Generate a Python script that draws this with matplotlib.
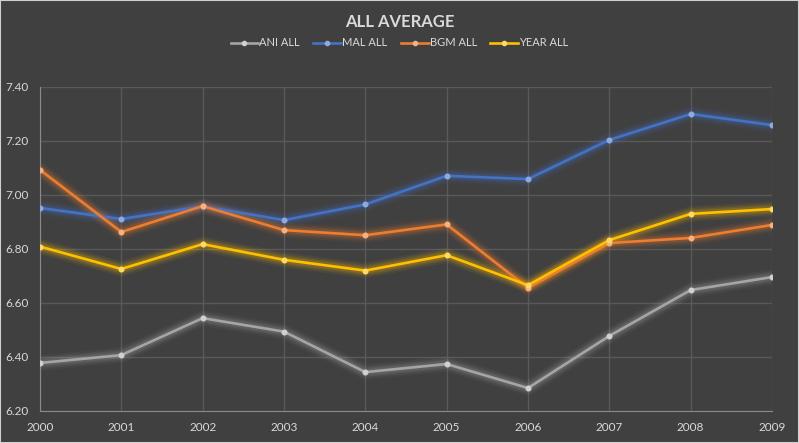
import matplotlib
matplotlib.use("Agg")
import matplotlib.pyplot as plt
from matplotlib.lines import Line2D

years = [2000, 2001, 2002, 2003, 2004, 2005, 2006, 2007, 2008, 2009]
ani_all = [6.378, 6.407, 6.544, 6.494, 6.344, 6.374, 6.285, 6.478, 6.648, 6.696]
mal_all = [6.952, 6.911, 6.958, 6.907, 6.965, 7.071, 7.059, 7.204, 7.300, 7.259]
bgm_all = [7.093, 6.863, 6.959, 6.870, 6.851, 6.891, 6.656, 6.822, 6.841, 6.889]
year_all = [6.809, 6.726, 6.818, 6.760, 6.720, 6.777, 6.666, 6.833, 6.930, 6.948]
series_names = ["ANI ALL", "MAL ALL", "BGM ALL", "YEAR ALL"]
y_ticks = [6.20, 6.40, 6.60, 6.80, 7.00, 7.20, 7.40]

colors = ["#a5a5a5", "#4472c4", "#ed7d31", "#ffc000"]
marker_colors = ["#d0d0d0", "#8fa9dc", "#f4b183", "#ffd966"]
bg = "#404040"
txt = "#d9d9d9"
grid_c = "#595959"

plt.rcParams['font.family'] = ['Lato', 'DejaVu Sans']

fig = plt.figure(figsize=(7.99, 4.43), dpi=100, facecolor=bg)
fig.patches.append(plt.Rectangle((0, 0), 1, 1, transform=fig.transFigure,
                                 fill=False, edgecolor="#d0d0d0", linewidth=1.5, zorder=10))
ax = fig.add_axes([40/799, 1-411/443, (772-40)/799, (411-87)/443])
ax.set_facecolor(bg)

data = [ani_all, mal_all, bgm_all, year_all]
for vals, c, mc in zip(data, colors, marker_colors):
    for lw, a in [(11, 0.06), (8.5, 0.08), (6.5, 0.11), (4.5, 0.15)]:
        ax.plot(years, vals, color=c, linewidth=lw, alpha=a, solid_capstyle='round',
                solid_joinstyle='round', zorder=2)
    ax.plot(years, vals, color=c, linewidth=1.9, zorder=3,
            marker='o', markersize=3.3, markerfacecolor=mc, markeredgecolor=mc)

ax.set_xlim(2000, 2009)
ax.set_ylim(6.20, 7.40)
ax.set_xticks(years)
ax.set_xticklabels([str(y) for y in years])
ax.set_yticks(y_ticks)
ax.set_yticklabels([f"{v:.2f}" for v in y_ticks])
ax.grid(True, color=grid_c, linewidth=1)
ax.set_axisbelow(True)
for s in ["top", "right"]:
    ax.spines[s].set_visible(False)
ax.spines["left"].set_color("#8a8a8a")
ax.spines["bottom"].set_color("#8a8a8a")
ax.tick_params(axis='both', length=0, colors=txt, labelsize=8.5)
ax.tick_params(axis='y', pad=8)
ax.tick_params(axis='x', pad=8)

fig.text(0.5, 1-22/443, "ALL AVERAGE", ha='center', va='center',
         color=txt, fontsize=12, fontweight='bold')

handles = [Line2D([0], [0], color=c, linewidth=1.9, marker='o', markersize=3,
                  markerfacecolor=mc, markeredgecolor=mc)
           for c, mc in zip(colors, marker_colors)]
leg = fig.legend(handles, series_names, loc='center', bbox_to_anchor=(0.5, 1-43/443),
                 ncol=4, frameon=False, fontsize=8, handlelength=2.5,
                 handletextpad=0.1, columnspacing=1.2)
for t in leg.get_texts():
    t.set_color(txt)

fig.savefig("out.png", dpi=100, facecolor=bg)
